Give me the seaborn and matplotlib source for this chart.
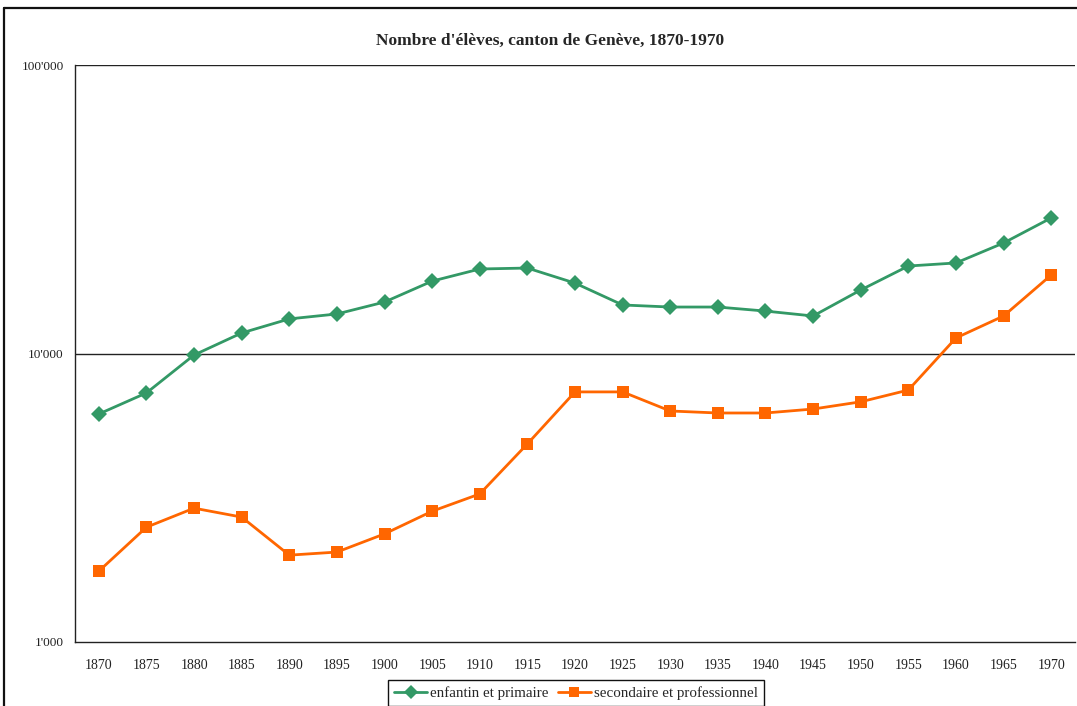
import matplotlib
matplotlib.use("Agg")
import matplotlib.pyplot as plt
import matplotlib.ticker as mticker
from matplotlib.lines import Line2D
import numpy as np
import pandas as pd
import seaborn as sns

years = [1870, 1875, 1880, 1885, 1890, 1895, 1900, 1905, 1910, 1915, 1920,
         1925, 1930, 1935, 1940, 1945, 1950, 1955, 1960, 1965, 1970]
primaire = [6170, 7300, 9880, 11780, 13180, 13710, 15080, 17820, 19630, 19780, 17540,
            14730, 14490, 14490, 14030, 13490, 16600, 20100, 20600, 24160, 29500]
secondaire = [1760, 2500, 2910, 2710, 2000, 2050, 2370, 2840, 3260, 4860, 7360,
              7360, 6320, 6220, 6220, 6420, 6800, 7470, 11320, 13490, 18710]
series_names = ["enfantin et primaire", "secondaire et professionnel"]
y_ticks = [1000, 10000, 100000]
y_tick_labels = ["1'000", "10'000", "100'000"]
title = "Nombre d'élèves, canton de Genève, 1870-1970"

sns.set_theme(style="white")
plt.rcParams["font.family"] = ["Liberation Serif", "DejaVu Serif"]

pos = np.arange(len(years))
df = pd.DataFrame({
    "pos": np.concatenate([pos, pos]),
    "eleves": primaire + secondaire,
    "serie": [series_names[0]] * len(years) + [series_names[1]] * len(years),
})

fig = plt.figure(figsize=(10.77, 7.06), dpi=100)
ax = fig.add_axes([75 / 1077, 64 / 706, 1000 / 1077, 577 / 706])

sns.lineplot(
    data=df, x="pos", y="eleves", hue="serie", style="serie",
    palette={series_names[0]: "#339966", series_names[1]: "#FF6600"},
    markers={series_names[0]: "D", series_names[1]: "s"},
    dashes=False, markersize=8, markeredgewidth=0, linewidth=2.0, ax=ax,
)

ax.set_yscale("log")
ax.set_ylim(1000, 100000)
ax.set_xlim(-0.5, len(years) - 0.5)

ax.yaxis.set_major_locator(mticker.FixedLocator(y_ticks))
ax.yaxis.set_major_formatter(mticker.FixedFormatter(y_tick_labels))
ax.yaxis.set_minor_locator(mticker.NullLocator())
ax.xaxis.set_major_locator(mticker.FixedLocator(pos))
ax.xaxis.set_major_formatter(mticker.FixedFormatter([str(y) for y in years]))
ax.xaxis.set_minor_locator(mticker.FixedLocator(np.arange(-0.5, len(years), 1.0)))

ax.tick_params(axis="x", which="major", length=0, pad=12, labelsize=10, colors="#222222")
ax.tick_params(axis="x", which="minor", length=5, width=1, color="#333333", direction="out")
ax.tick_params(axis="y", which="major", length=5, width=1, color="#333333",
               direction="out", labelsize=9.5, labelcolor="#222222", pad=3)
ax.set_xlabel("")
ax.set_ylabel("")

for yv in y_ticks[1:]:
    ax.axhline(yv, color="#222222", linewidth=1.0, zorder=1)

for side in ["top", "right"]:
    ax.spines[side].set_visible(False)
for side in ["left", "bottom"]:
    ax.spines[side].set_visible(True)
    ax.spines[side].set_color("#222222")
    ax.spines[side].set_linewidth(1.0)

fig.text(550 / 1077, 1 - 41 / 706, title, ha="center", va="center",
         fontsize=12.5, fontweight="bold")

handles, labels = ax.get_legend_handles_labels()
ax.legend(handles, labels, loc="upper center", bbox_to_anchor=(576 / 1077, 1 - 680 / 706),
          bbox_transform=fig.transFigure, ncol=2, frameon=True, fancybox=False,
          edgecolor="#111111", framealpha=1, fontsize=10.8, borderpad=0.4,
          handlelength=2.2, handletextpad=0.2, columnspacing=0.6, borderaxespad=0,
          markerscale=0.85)
leg = ax.get_legend()
leg.get_frame().set_linewidth(1.0)

# outer frame of the chart area: top and left edges
fig.add_artist(Line2D([4 / 1077, 1.0], [1 - 8 / 706, 1 - 8 / 706],
                      transform=fig.transFigure, color="#111111", linewidth=1.6))
fig.add_artist(Line2D([4 / 1077, 4 / 1077], [0.0, 1 - 8 / 706],
                      transform=fig.transFigure, color="#111111", linewidth=1.6))

fig.savefig("out.png", dpi=100)
